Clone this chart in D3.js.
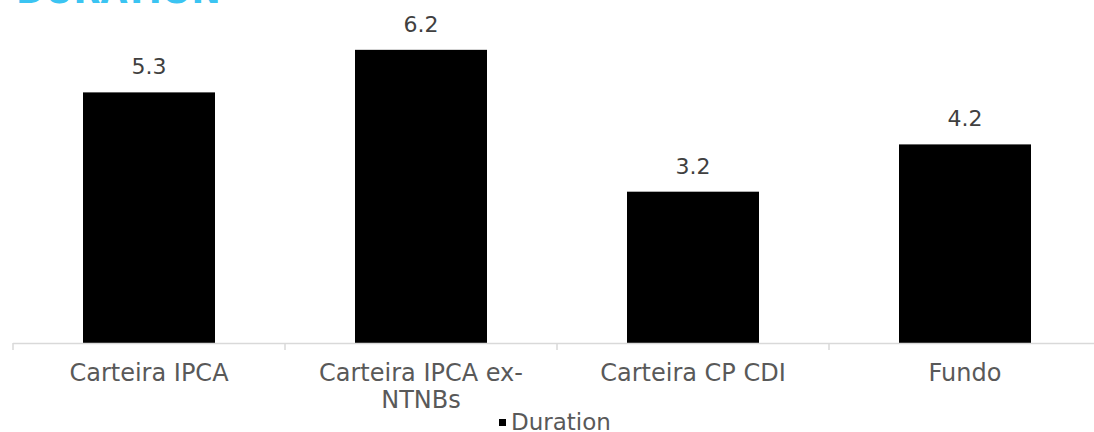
<!DOCTYPE html>
<html>
<head>
<meta charset="utf-8">
<script src="https://cdn.jsdelivr.net/npm/d3@7"></script>
<style>
  html, body { margin: 0; padding: 0; background: #fff; }
  svg { display: block; }
</style>
</head>
<body>
<svg id="chart" width="1094" height="432"></svg>
<script>
const title = "DURATION";
const categories = [["Carteira IPCA"], ["Carteira IPCA ex-", "NTNBs"], ["Carteira CP CDI"], ["Fundo"]];
const categoryKeys = ["Carteira IPCA", "Carteira IPCA ex-NTNBs", "Carteira CP CDI", "Fundo"];
const durationValues = [5.3, 6.2, 3.2, 4.2];
const seriesName = "Duration";

const FONT = "'DejaVu Sans', 'Noto Sans', sans-serif";
const svg = d3.select("#chart");

const x = d3.scaleBand()
  .domain(categoryKeys)
  .range([13, 1101])
  .paddingInner(0.5147)
  .paddingOuter(0.5147 / 2);

const y = d3.scaleLinear().domain([0, 7]).range([343, 12]);

// Title (cut off at top)
svg.append("text")
  .attr("x", 16).attr("y", 3)
  .attr("font-family", FONT).attr("font-weight", "bold")
  .attr("font-size", 35).attr("fill", "#3BC4F2")
  .text(title);

// Bars
svg.append("g").selectAll("rect")
  .data(durationValues)
  .join("rect")
  .attr("x", (d, i) => x(categoryKeys[i]))
  .attr("width", x.bandwidth())
  .attr("y", d => y(d))
  .attr("height", d => y(0) - y(d))
  .attr("fill", "#000");

// Value labels
svg.append("g").selectAll("text")
  .data(durationValues)
  .join("text")
  .attr("x", (d, i) => x(categoryKeys[i]) + x.bandwidth() / 2)
  .attr("y", d => y(d) - 18)
  .attr("text-anchor", "middle")
  .attr("font-family", FONT).attr("font-size", 22)
  .attr("fill", "#404040")
  .text(d => d3.format(".1f")(d));

// Axis line and ticks
const axisG = svg.append("g");
const step = x.step();
const x0 = x.range()[0];
axisG.append("line")
  .attr("x1", x0).attr("x2", x.range()[1])
  .attr("y1", y(0) + 0.5).attr("y2", y(0) + 0.5)
  .attr("stroke", "#d9d9d9").attr("stroke-width", 1.5);
axisG.selectAll("line.tick")
  .data(d3.range(categoryKeys.length + 1))
  .join("line")
  .attr("class", "tick")
  .attr("x1", i => x0 + i * step).attr("x2", i => x0 + i * step)
  .attr("y1", y(0)).attr("y2", y(0) + 7)
  .attr("stroke", "#d9d9d9").attr("stroke-width", 1.5);

// Category labels
const lab = svg.append("g").selectAll("text")
  .data(categories)
  .join("text")
  .attr("x", (d, i) => x(categoryKeys[i]) + x.bandwidth() / 2)
  .attr("y", 381)
  .attr("text-anchor", "middle")
  .attr("font-family", FONT).attr("font-size", 24)
  .attr("fill", "#595959");
lab.selectAll("tspan")
  .data(d => d)
  .join("tspan")
  .attr("x", function() { return d3.select(this.parentNode).attr("x"); })
  .attr("dy", (d, i) => i === 0 ? 0 : 27)
  .text(d => d);

// Legend
const leg = svg.append("g");
leg.append("rect")
  .attr("x", 499).attr("y", 419).attr("width", 7).attr("height", 7)
  .attr("fill", "#000");
leg.append("text")
  .attr("x", 511).attr("y", 430)
  .attr("font-family", FONT).attr("font-size", 23)
  .attr("fill", "#595959")
  .text(seriesName);
</script>
</body>
</html>
